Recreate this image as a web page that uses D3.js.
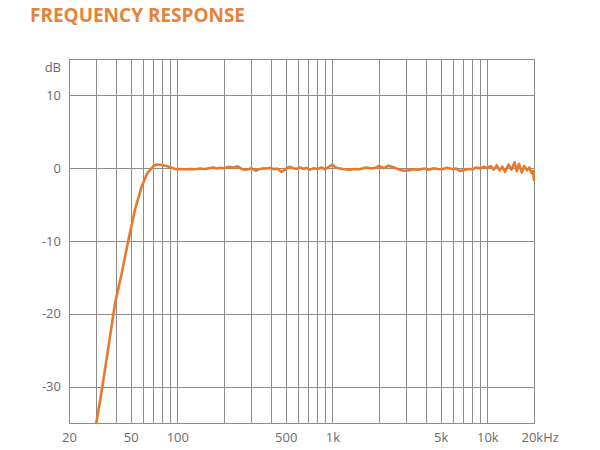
<!DOCTYPE html>
<html>
<head>
<meta charset="utf-8">
<script src="https://cdn.jsdelivr.net/npm/d3@7"></script>
<style>
  html, body { margin: 0; padding: 0; background: #ffffff; }
  svg { display: block; }
</style>
</head>
<body>
<svg id="chart" width="600" height="450"></svg>
<script>
// ---- data ----
const titleText = "FREQUENCY RESPONSE";
const freqs = [
  30, 32.8, 35.9, 39.6, 43.7, 48.3, 53.3, 58.9, 64, 70, 73.6, 79, 85.5, 92, 98,
  105, 110, 120, 130, 140, 150, 160, 170, 180, 190, 200, 215, 230, 245, 260, 275, 290,
  300, 320, 340, 360, 380, 400, 420, 440, 470, 500, 530, 560, 590, 620, 650, 680, 720,
  760, 800, 850, 900, 950, 1000, 1050, 1100, 1200, 1300, 1400, 1500, 1650, 1800, 1900,
  2000, 2150, 2300, 2500, 2700, 2900, 3100, 3300, 3600, 3900, 4200, 4500, 4800, 5100,
  5500, 5900, 6300, 6700, 7100, 7500, 8000, 8500, 9000, 9500, 10000, 10500, 11000,
  11500, 12000, 12500, 13000, 13700, 14300, 15000, 15500, 16000, 16700, 17300, 18000,
  18700, 19300, 19700, 20000
];
const dbValues = [
  -35, -30.1, -24.6, -18.6, -14.5, -9.9, -5.7, -2.5, -0.7, 0.3, 0.5, 0.45, 0.3, 0.05, -0.15,
  -0.1, -0.15, -0.1, -0.15, -0.05, -0.1, 0.0, 0.1, -0.05, 0.05, 0.0, 0.2, 0.1, 0.25, -0.1, -0.2, -0.1,
  0.0, -0.35, -0.1, 0.0, -0.05, 0.05, -0.15, -0.05, -0.5, -0.1, 0.2, 0.0, -0.1, 0.1, -0.1, 0.05, -0.2,
  0.0, -0.1, 0.1, -0.15, 0.2, 0.5, 0.1, 0.0, -0.15, -0.2, -0.1, -0.15, 0.1, -0.05, 0.05,
  0.3, 0.0, 0.35, 0.1, -0.2, -0.35, -0.3, -0.15, -0.2, -0.05, -0.2, 0.0, -0.1, -0.15,
  0.05, -0.1, -0.05, -0.4, -0.25, -0.1, -0.15, 0.1, -0.05, 0.2, 0.0, 0.3, -0.2,
  0.4, -0.3, 0.2, -0.5, 0.5, -0.2, 0.8, -0.4, 0.6, -0.6, 0.3, -0.3,
  0.1, -0.7, -0.4, -1.6
];
const gridFreqs = [30, 40, 50, 60, 70, 80, 90, 100, 200, 300, 400, 500, 600, 700, 800, 900,
  1000, 2000, 3000, 4000, 5000, 6000, 7000, 8000, 9000, 10000];
const xTickValues = [20, 50, 100, 500, 1000, 5000, 10000, 20000];
const xTickLabels = ["20", "50", "100", "500", "1k", "5k", "10k", "20kHz"];
const yTickValues = [10, 0, -10, -20, -30];
const yTickLabels = ["10", "0", "-10", "-20", "-30"];
const yUnit = "dB";

// ---- layout ----
const svg = d3.select("#chart");
const pLeft = 69, pRight = 534, pTop = 59, pBottom = 423;
const orange = "#e8792c";
const gridColor = "#8c8c8c";
const textColor = "#6a6a6a";
const font = "'Open Sans', 'DejaVu Sans', sans-serif";

const x = d3.scaleLog().domain([20, 20000]).range([pLeft, pRight]);
const y = d3.scaleLinear().domain([-35, 15]).range([pBottom, pTop]);

svg.append("rect").attr("width", 600).attr("height", 450).attr("fill", "#fff");

// title
svg.append("text")
  .attr("x", 30).attr("y", 22)
  .attr("font-family", font).attr("font-weight", 700).attr("font-size", 20)
  .attr("fill", "#e8823a")
  .attr("textLength", 215).attr("lengthAdjust", "spacingAndGlyphs")
  .text(titleText);

// vertical grid
svg.append("g")
  .attr("transform", `translate(0,${pBottom})`)
  .call(d3.axisBottom(x).tickValues(gridFreqs).tickSize(-(pBottom - pTop)).tickFormat(""))
  .call(g => g.select(".domain").remove())
  .call(g => g.selectAll(".tick line").attr("stroke", gridColor).attr("stroke-width", 1).attr("shape-rendering", "crispEdges"));

// horizontal grid
svg.append("g")
  .attr("transform", `translate(${pLeft},0)`)
  .call(d3.axisLeft(y).tickValues(yTickValues).tickSize(-(pRight - pLeft)).tickFormat(""))
  .call(g => g.select(".domain").remove())
  .call(g => g.selectAll(".tick line").attr("stroke", gridColor).attr("stroke-width", 1).attr("shape-rendering", "crispEdges"));

// frame
svg.append("rect")
  .attr("x", pLeft).attr("y", pTop)
  .attr("width", pRight - pLeft).attr("height", pBottom - pTop)
  .attr("fill", "none").attr("stroke", gridColor).attr("stroke-width", 1)
  .attr("shape-rendering", "crispEdges");

// x labels
const xAxis = svg.append("g")
  .attr("transform", `translate(0,${pBottom})`)
  .call(d3.axisBottom(x).tickValues(xTickValues).tickSize(0).tickPadding(10)
    .tickFormat((d, i) => xTickLabels[i]))
  .call(g => g.select(".domain").remove());
xAxis.selectAll("text")
  .attr("font-family", font).attr("font-size", 13).attr("fill", textColor);
xAxis.selectAll(".tick").filter(d => d === 20000).select("text")
  .attr("text-anchor", "start").attr("x", -13);

// y labels
const yAxis = svg.append("g")
  .attr("transform", `translate(${pLeft},0)`)
  .call(d3.axisLeft(y).tickValues(yTickValues).tickSize(0).tickPadding(8)
    .tickFormat((d, i) => yTickLabels[i]))
  .call(g => g.select(".domain").remove());
yAxis.selectAll("text")
  .attr("font-family", font).attr("font-size", 13).attr("fill", textColor);

svg.append("text")
  .attr("x", pLeft - 8).attr("y", pTop + 9).attr("dy", "0.32em")
  .attr("text-anchor", "end")
  .attr("font-family", font).attr("font-size", 13).attr("fill", textColor)
  .text(yUnit);

// curve
const pts = freqs.map((f, i) => [f, dbValues[i]]);
const line = d3.line().x(d => x(d[0])).y(d => y(d[1]));
svg.append("path")
  .datum(pts)
  .attr("d", line)
  .attr("fill", "none")
  .attr("stroke", orange)
  .attr("stroke-width", 2.6)
  .attr("stroke-linejoin", "round")
  .attr("stroke-linecap", "round");
</script>
</body>
</html>
